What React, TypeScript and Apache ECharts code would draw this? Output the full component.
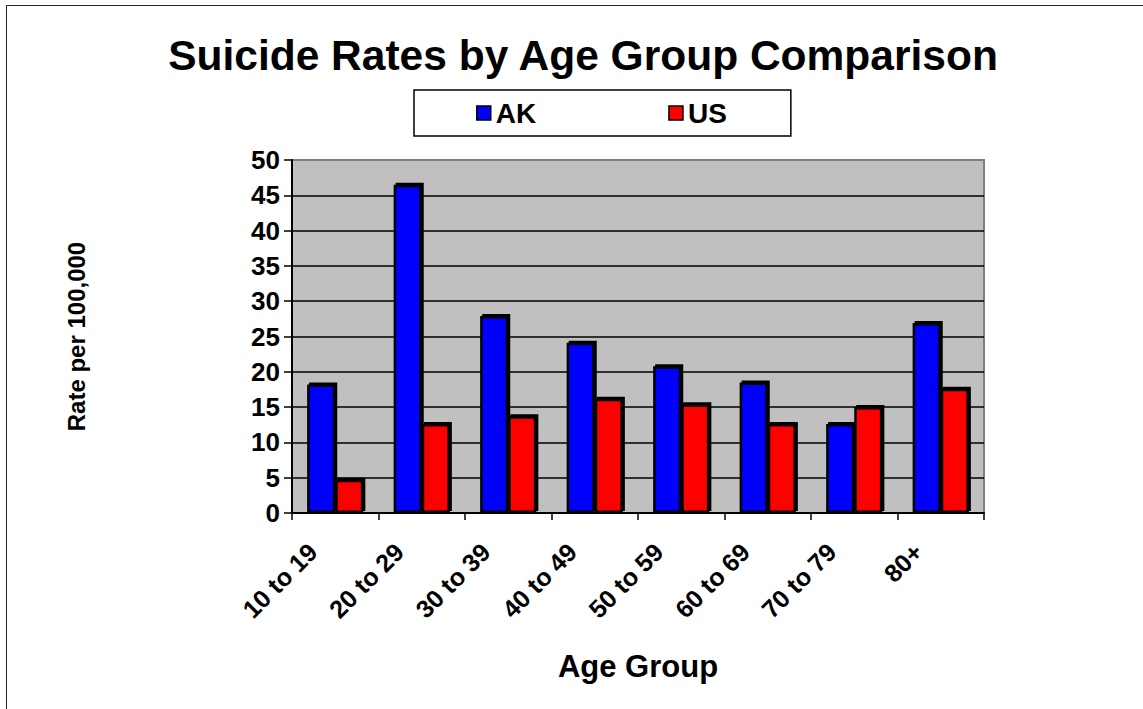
import React, { useEffect, useRef } from "react";
import * as echarts from "echarts";

const categories = ["10 to 19", "20 to 29", "30 to 39", "40 to 49", "50 to 59", "60 to 69", "70 to 79", "80+"];
const akValues = [18.2, 46.5, 27.9, 24.1, 20.8, 18.5, 12.6, 26.9];
const usValues = [4.7, 12.6, 13.7, 16.2, 15.4, 12.6, 15.0, 17.6];
const yTicks = { min: 0, max: 50, interval: 5 };

const FONT = "'Liberation Sans', Arial, Helvetica, sans-serif";

export default function App() {
  const ref = useRef<HTMLDivElement>(null);
  useEffect(() => {
    if (!ref.current) return;
    const chart = echarts.init(ref.current, null, { renderer: "svg" });
    const splitColors: string[] = [];
    for (let v = yTicks.min; v <= yTicks.max; v += yTicks.interval) {
      splitColors.push(v === yTicks.max ? "#808080" : "#000000");
    }
    const barStyle = (color: string) => ({
      color,
      borderColor: "#000",
      borderWidth: 2.5,
      shadowColor: "#000",
      shadowBlur: 0,
      shadowOffsetX: 2,
      shadowOffsetY: -2,
    });
    chart.setOption({
      animation: false,
      backgroundColor: "#ffffff",
      textStyle: { fontFamily: FONT },
      title: {
        text: "Suicide Rates by Age Group Comparison",
        left: 578,
        textAlign: "center",
        top: 29,
        textStyle: { fontFamily: FONT, fontSize: 42.5, fontWeight: "bold", color: "#000" },
      },
      legend: {
        left: 414,
        top: 90,
        padding: [9, 64, 9, 62],
        itemGap: 132,
        itemWidth: 14,
        itemHeight: 14,
        icon: "rect",
        backgroundColor: "#ffffff",
        borderColor: "#000000",
        borderWidth: 1.5,
        borderRadius: 0,
        itemStyle: { shadowBlur: 0, shadowOffsetX: 0, shadowOffsetY: 0, shadowColor: "transparent", borderWidth: 1.5 },
        textStyle: { fontFamily: FONT, fontSize: 28, fontWeight: "bold", color: "#000" },
      },
      graphic: [
        {
          type: "rect",
          z: -10,
          shape: { x: 6.5, y: 5.5, width: 1200, height: 800 },
          style: { fill: "none", stroke: "#222", lineWidth: 1 },
        },
      ],
      grid: {
        left: 292,
        right: 159,
        top: 160,
        bottom: 196,
        show: true,
        backgroundColor: "#C0C0C0",
        borderColor: "#808080",
        borderWidth: 2,
      },
      xAxis: {
        type: "category",
        data: categories,
        name: "Age Group",
        nameLocation: "middle",
        nameGap: 138,
        nameTextStyle: { fontFamily: FONT, fontSize: 31, fontWeight: "bold", color: "#000" },
        axisLine: { show: true, lineStyle: { color: "#000", width: 2 } },
        axisTick: { show: true, alignWithLabel: false, length: 7, lineStyle: { color: "#000", width: 1.5 } },
        axisLabel: {
          interval: 0,
          rotate: 45,
          margin: 12,
          padding: [0, 32, 0, 0],
          fontFamily: FONT,
          fontSize: 25,
          fontWeight: "bold",
          color: "#000",
        },
      },
      yAxis: {
        type: "value",
        min: yTicks.min,
        max: yTicks.max,
        interval: yTicks.interval,
        name: "Rate per 100,000",
        nameLocation: "middle",
        nameGap: 204,
        nameRotate: 90,
        nameTextStyle: { fontFamily: FONT, fontSize: 24, fontWeight: "bold", color: "#000" },
        axisLine: { show: true, lineStyle: { color: "#000", width: 2 } },
        axisTick: { show: true, length: 8, lineStyle: { color: "#000", width: 1.5 } },
        axisLabel: { margin: 12, fontFamily: FONT, fontSize: 26, fontWeight: "bold", color: "#000" },
        splitLine: { show: true, lineStyle: { color: splitColors, width: 1.5 } },
      },
      series: [
        {
          name: "AK",
          type: "bar",
          data: akValues,
          barGap: "0%",
          barCategoryGap: "35%",
          itemStyle: barStyle("#0000FF"),
        },
        {
          name: "US",
          type: "bar",
          data: usValues,
          barGap: "0%",
          barCategoryGap: "35%",
          itemStyle: barStyle("#FF0000"),
        },
      ],
    });
    return () => chart.dispose();
  }, []);
  return (
    <div
      ref={ref}
      style={{ position: "absolute", left: 0, top: 0, width: 1143, height: 709 }}
    />
  );
}
